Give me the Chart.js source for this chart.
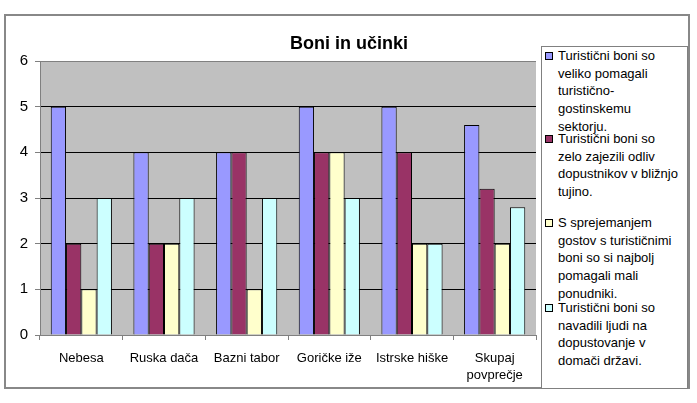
<!DOCTYPE html>
<html>
<head>
<meta charset="utf-8">
<script src="https://cdn.jsdelivr.net/npm/chart.js@4"></script>
<style>
  body { margin: 0; background: #fff; }
  #wrap { position: relative; width: 697px; height: 403px; }
  #myChart { position: absolute; left: 0; top: 0; }
  #legend {
    position: absolute; left: 541px; top: 46px; width: 145px; height: 341px;
    border: 1px solid #808080; background: #fff;
    font-family: "Liberation Sans", Arial, sans-serif; font-size: 13px; color: #000;
  }
  .item { position: absolute; left: 0; width: 146px; }
  .sw { position: absolute; left: 3px; top: 5px; width: 6px; height: 6px; border: 1px solid #000; }
  .txt { position: absolute; left: 16px; width: 121px; line-height: 17.7px; }
</style>
</head>
<body>
<div id="wrap">
  <canvas id="myChart" width="697" height="403"></canvas>
  <div id="legend"></div>
</div>
<script>
const labels = ['Nebesa', 'Ruska dača', 'Bazni tabor', 'Goričke iže', 'Istrske hiške', ['Skupaj', 'povprečje']];

const seriesNames = [
  'Turistični boni so veliko pomagali turistično-gostinskemu sektorju.',
  'Turistični boni so zelo zajezili odliv dopustnikov v bližnjo tujino.',
  'S sprejemanjem gostov s turističnimi boni so si najbolj pomagali mali ponudniki.',
  'Turistični boni so navadili ljudi na dopustovanje v domači državi.'
];

const pomagali = [5, 4, 4, 5, 5, 4.6];
const zajezili = [2, 2, 4, 4, 4, 3.2];
const maliPonudniki = [1, 2, 1, 4, 2, 2];
const navadili = [3, 3, 3, 3, 2, 2.8];

const colors = ['#9999FF', '#993366', '#FFFFCC', '#CCFFFF'];
const values = [pomagali, zajezili, maliPonudniki, navadili];

const data = {
  labels: labels,
  datasets: values.map(function (v, i) {
    return {
      label: seriesNames[i],
      data: v,
      backgroundColor: colors[i],
      borderColor: '#000',
      borderWidth: 1,
      barPercentage: 1,
      categoryPercentage: 0.74
    };
  })
};

const plotBg = {
  id: 'plotBg',
  beforeDraw(chart) {
    const a = chart.chartArea, ctx = chart.ctx;
    ctx.save();
    ctx.fillStyle = '#fff';
    ctx.fillRect(0, 0, chart.width, chart.height);
    ctx.fillStyle = '#C0C0C0';
    ctx.fillRect(a.left, a.top, a.right - a.left, a.bottom - a.top);
    ctx.restore();
  },
  afterDraw(chart) {
    const ctx = chart.ctx;
    ctx.save();
    ctx.strokeStyle = '#888';
    ctx.lineWidth = 2;
    ctx.strokeRect(5, 15, 684, 373);
    ctx.fillStyle = '#000';
    ctx.font = 'bold 18px "Liberation Sans", Arial, sans-serif';
    ctx.textAlign = 'center';
    ctx.textBaseline = 'middle';
    ctx.fillText('Boni in učinki', 349, 44);
    ctx.restore();
  }
};

const config = {
  type: 'bar',
  data: data,
  options: {
    responsive: false,
    animation: false,
    layout: { padding: { left: 0, right: 161, top: 61, bottom: 8 } },
    plugins: { legend: { display: false }, tooltip: { enabled: false } },
    scales: {
      x: {
        grid: { offset: true, drawOnChartArea: false, drawTicks: true, tickLength: 5, color: '#808080' },
        border: { color: '#808080' },
        ticks: { color: '#000', padding: 9, maxRotation: 0, font: { family: '"Liberation Sans", Arial, sans-serif', size: 13, lineHeight: 1.38 } },
        afterFit: function (s) { s.height = 60; }
      },
      y: {
        min: 0,
        max: 6,
        ticks: { stepSize: 1, color: '#000', padding: 7, font: { family: '"Liberation Sans", Arial, sans-serif', size: 15 } },
        grid: {
          color: function (c) { return (c.tick.value === 0 || c.tick.value === 6) ? '#808080' : '#000'; },
          tickColor: '#808080',
          tickLength: 5
        },
        border: { color: '#808080' },
        afterFit: function (s) { s.width = 40; }
      }
    }
  },
  plugins: [plotBg]
};

const myChart = new Chart(document.getElementById('myChart').getContext('2d'), config);

// legend built from the datasets
var legend = document.getElementById('legend');
var itemTops = [0, 83, 167, 252];
data.datasets.forEach(function (ds, i) {
  var item = document.createElement('div');
  item.className = 'item';
  item.style.top = itemTops[i] + 'px';
  var sw = document.createElement('div');
  sw.className = 'sw';
  sw.style.background = ds.backgroundColor;
  var txt = document.createElement('div');
  txt.className = 'txt';
  txt.textContent = ds.label;
  item.appendChild(sw);
  item.appendChild(txt);
  legend.appendChild(item);
});
</script>
</body>
</html>
